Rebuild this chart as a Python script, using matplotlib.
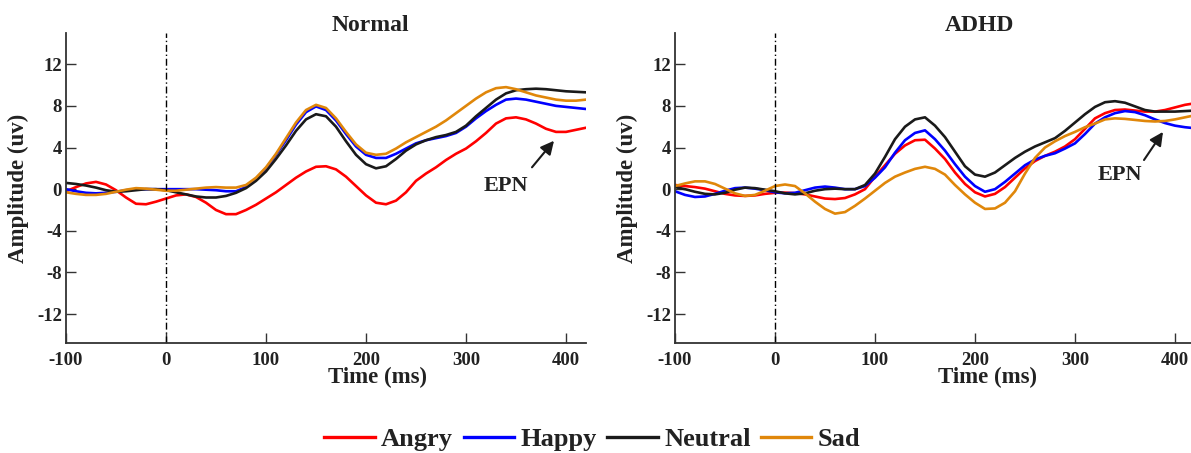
import numpy as np
import matplotlib
matplotlib.use('Agg')
import matplotlib.pyplot as plt
from matplotlib.lines import Line2D

plt.rcParams['font.family'] = ['Liberation Serif', 'DejaVu Serif']
plt.rcParams['font.weight'] = 'bold'
plt.rcParams['axes.unicode_minus'] = False

# time axis, ms (10 ms steps)
time_ms = list(range(-100, 421, 10))

conditions = ['Angry', 'Happy', 'Neutral', 'Sad']
colors = ['#FF0000', '#0000FF', '#1A1A1A', '#E0870A']

# Normal group amplitudes (uv)
normal_angry = [-0.2, 0.2, 0.55, 0.7, 0.45, -0.1, -0.8, -1.4, -1.45, -1.2,
                -0.9, -0.6, -0.5, -0.75, -1.3, -2.0, -2.4, -2.4, -2.0, -1.5,
                -0.9, -0.3, 0.4, 1.1, 1.7, 2.15, 2.2, 1.9, 1.2, 0.3,
                -0.6, -1.3, -1.45, -1.1, -0.3, 0.8, 1.5, 2.1, 2.8, 3.4,
                3.9, 4.6, 5.4, 6.3, 6.8, 6.9, 6.7, 6.3, 5.8, 5.5,
                5.5, 5.7, 5.9]
normal_happy = [0.0, -0.2, -0.35, -0.4, -0.35, -0.25, -0.1, 0.0, 0.0, 0.0,
                0.0, 0.0, 0.0, 0.0, -0.05, -0.1, -0.2, -0.2, 0.2, 1.0,
                2.0, 3.3, 4.7, 6.2, 7.4, 7.95, 7.6, 6.6, 5.3, 4.1,
                3.3, 3.0, 3.0, 3.4, 3.9, 4.4, 4.7, 4.9, 5.1, 5.4,
                6.0, 6.8, 7.5, 8.1, 8.6, 8.7, 8.6, 8.4, 8.2, 8.0,
                7.9, 7.8, 7.7]
normal_neutral = [0.6, 0.5, 0.35, 0.15, -0.1, -0.25, -0.2, -0.1, 0.0, 0.0,
                  -0.1, -0.3, -0.5, -0.7, -0.8, -0.8, -0.65, -0.35, 0.1, 0.8,
                  1.7, 2.9, 4.2, 5.6, 6.7, 7.2, 7.0, 6.0, 4.6, 3.3,
                  2.4, 2.0, 2.2, 2.9, 3.7, 4.3, 4.7, 5.0, 5.2, 5.5,
                  6.1, 7.0, 7.8, 8.6, 9.2, 9.5, 9.6, 9.65, 9.6, 9.5,
                  9.4, 9.35, 9.3]
normal_sad = [-0.3, -0.45, -0.55, -0.55, -0.45, -0.25, -0.05, 0.1, 0.05, -0.05,
              -0.15, -0.15, -0.05, 0.05, 0.15, 0.2, 0.15, 0.15, 0.4, 1.1,
              2.1, 3.4, 4.9, 6.4, 7.6, 8.1, 7.8, 6.8, 5.5, 4.3,
              3.5, 3.3, 3.4, 3.9, 4.5, 5.0, 5.5, 6.0, 6.6, 7.3,
              8.0, 8.7, 9.3, 9.7, 9.8, 9.6, 9.3, 9.0, 8.8, 8.6,
              8.5, 8.5, 8.6]

# ADHD group amplitudes (uv)
adhd_angry = [0.4, 0.3, 0.2, 0.05, -0.2, -0.45, -0.6, -0.65, -0.6, -0.45,
              -0.35, -0.33, -0.38, -0.5, -0.7, -0.9, -0.95, -0.85, -0.5, 0.0,
              1.2, 2.3, 3.4, 4.2, 4.7, 4.75, 3.9, 2.9, 1.6, 0.5,
              -0.3, -0.7, -0.45, 0.2, 1.1, 2.0, 2.7, 3.2, 3.6, 4.1,
              4.8, 5.8, 6.8, 7.3, 7.6, 7.65, 7.55, 7.45, 7.45, 7.6,
              7.85, 8.1, 8.25]
adhd_happy = [-0.2, -0.55, -0.75, -0.7, -0.45, -0.15, 0.1, 0.15, 0.05, -0.1,
              -0.3, -0.4, -0.35, -0.1, 0.15, 0.25, 0.15, 0.0, 0.0, 0.3,
              1.1, 2.1, 3.5, 4.7, 5.4, 5.65, 4.8, 3.7, 2.4, 1.2,
              0.3, -0.25, 0.0, 0.7, 1.5, 2.3, 2.85, 3.2, 3.45, 3.9,
              4.4, 5.3, 6.3, 6.9, 7.3, 7.5, 7.4, 7.1, 6.7, 6.35,
              6.1, 5.95, 5.85]
adhd_neutral = [0.2, 0.0, -0.25, -0.45, -0.5, -0.35, -0.05, 0.15, 0.1, -0.05,
                -0.2, -0.4, -0.5, -0.4, -0.15, 0.0, 0.05, 0.0, 0.0, 0.4,
                1.5, 3.1, 4.8, 6.0, 6.7, 6.9, 6.1, 5.0, 3.6, 2.2,
                1.4, 1.2, 1.6, 2.3, 3.0, 3.6, 4.1, 4.5, 4.9, 5.6,
                6.4, 7.2, 7.9, 8.35, 8.45, 8.3, 7.95, 7.6, 7.45, 7.45,
                7.45, 7.5, 7.55]
adhd_sad = [0.3, 0.55, 0.75, 0.75, 0.5, 0.05, -0.4, -0.65, -0.55, -0.15,
            0.3, 0.45, 0.3, -0.4, -1.2, -1.9, -2.35, -2.2, -1.6, -0.9,
            -0.15, 0.6, 1.2, 1.6, 1.95, 2.15, 1.95, 1.4, 0.4, -0.5,
            -1.3, -1.9, -1.85, -1.3, -0.2, 1.5, 3.0, 4.0, 4.6, 5.1,
            5.5, 5.95, 6.3, 6.7, 6.8, 6.75, 6.65, 6.55, 6.5, 6.55,
            6.7, 6.9, 7.1]

panel_titles = ['Normal', 'ADHD']
y_ticks = [-12, -8, -4, 0, 4, 8, 12]
x_ticks = [-100, 0, 100, 200, 300, 400]

TXT = '#222222'


def draw_panel(ax, series, title, epn_xy, epn_tail, epn_text):
    for vals, c in zip(series, colors):
        ax.plot(time_ms, vals, color=c, lw=1.9, solid_joinstyle='round',
                solid_capstyle='round')
    ax.axvline(0, color='k', lw=1.0, ls=(0, (5, 2, 1, 2)))
    ax.set_xlim(-100, 420)
    ax.set_ylim(-14.8, 15)
    ax.set_xticks(x_ticks)
    ax.set_yticks(y_ticks)
    for s in ['top', 'right']:
        ax.spines[s].set_visible(False)
    for s in ['left', 'bottom']:
        ax.spines[s].set_color('#333333')
        ax.spines[s].set_linewidth(1.3)
    ax.tick_params(direction='in', length=7, width=1, color='#333333',
                   labelsize=13.5, labelcolor=TXT)
    ax.tick_params(axis='x', pad=6)
    ax.tick_params(axis='y', pad=3)
    ax.set_xlabel('Time (ms)', fontsize=16.5, fontweight='bold', color=TXT,
                  labelpad=-1, x=0.6)
    ax.set_ylabel('Amplitude (uv)', fontsize=16.5, fontweight='bold', color=TXT)
    ax.yaxis.set_label_coords(-0.071, 0.5)
    ax.text(0.585, 1.005, title, transform=ax.transAxes, ha='center',
            va='baseline', fontsize=17, fontweight='bold', color=TXT)
    ax.annotate('', xy=epn_xy, xytext=epn_tail,
                arrowprops=dict(arrowstyle='-|>', color='#1A1A1A', lw=1.5,
                                mutation_scale=20, shrinkA=0, shrinkB=0))
    ax.text(epn_text[0], epn_text[1], 'EPN', ha='center', va='center',
            fontsize=16, fontweight='bold', color=TXT)


fig = plt.figure(figsize=(11.91, 4.53), dpi=100)
ax1 = fig.add_axes([66 / 1191, 0.2422, 520 / 1191, 0.685])
ax2 = fig.add_axes([675 / 1191, 0.2422, 520 / 1191, 0.685])

draw_panel(ax1, [normal_angry, normal_happy, normal_neutral, normal_sad],
           panel_titles[0], (388, 4.65), (366, 2.1), (340, 0.3))
draw_panel(ax2, [adhd_angry, adhd_happy, adhd_neutral, adhd_sad],
           panel_titles[1], (388, 5.5), (369, 2.8), (345, 1.4))

handles = [Line2D([0], [0], color=c, lw=2.4) for c in colors]
leg = fig.legend(handles, conditions, loc='center', ncol=4, frameon=False,
                 bbox_to_anchor=(592.5 / 1191, 1 - 439 / 453),
                 prop={'family': 'Liberation Serif', 'weight': 'bold', 'size': 19},
                 handlelength=1.9, handletextpad=0.25, columnspacing=0.4)
for t in leg.get_texts():
    t.set_color(TXT)

fig.savefig('out.png', dpi=100)
plt.close(fig)
